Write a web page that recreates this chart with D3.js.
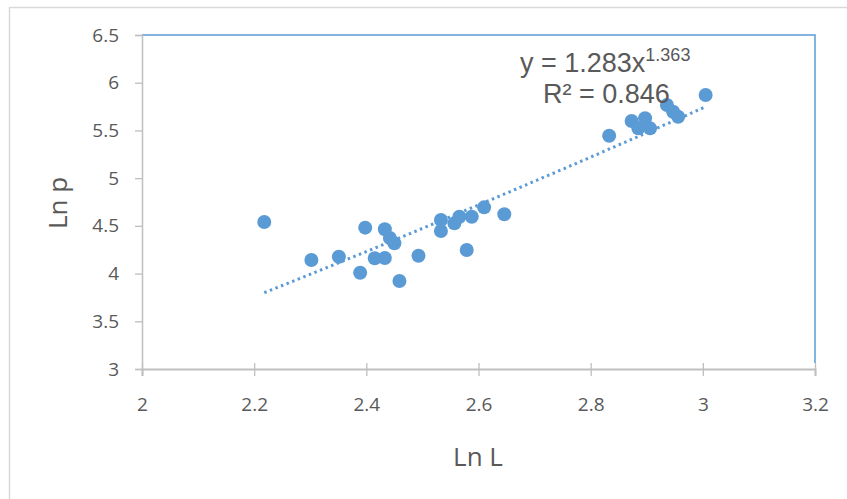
<!DOCTYPE html>
<html>
<head>
<meta charset="utf-8">
<script src="https://cdn.jsdelivr.net/npm/d3@7"></script>
<style>
  body { margin: 0; background: #fff; }
  svg { display: block; }
</style>
</head>
<body>
<div id="chart"></div>
<script>
(function () {
    "use strict";

    // data
    var lnL = [2.218, 2.302, 2.351, 2.398, 2.389, 2.415, 2.433, 2.433, 2.442, 2.450,
               2.459, 2.493, 2.533, 2.533, 2.557, 2.566, 2.588, 2.579, 2.610, 2.646,
               2.833, 2.873, 2.897, 2.885, 2.906, 2.936, 2.947, 2.956, 3.005];
    var lnP = [4.540, 4.142, 4.177, 4.481, 4.009, 4.161, 4.163, 4.464, 4.373, 4.317,
               3.922, 4.187, 4.561, 4.446, 4.527, 4.596, 4.596, 4.247, 4.694, 4.621,
               5.445, 5.599, 5.627, 5.522, 5.522, 5.766, 5.696, 5.644, 5.871];
    var xTicks = [2, 2.2, 2.4, 2.6, 2.8, 3, 3.2];
    var yTicks = [3, 3.5, 4, 4.5, 5, 5.5, 6, 6.5];
    // power trendline y = a * x^b
    var trendA = 1.283, trendB = 1.363;

    var W = 847, H = 499;
    var left = 142, right = 815, top = 35, bottom = 369;
    var blue = "#5b9bd5", grey = "#bfbfbf", textCol = "#595959";
    var font = "'Open Sans', 'Noto Sans', sans-serif";
    var eqFont = "'Liberation Sans', Arial, sans-serif";

    var svg = d3.select("#chart").append("svg")
        .attr("width", W)
        .attr("height", H);

    // outer chart border (clipped at right / bottom)
    svg.append("rect")
        .attr("x", 9.5).attr("y", 7.5)
        .attr("width", W + 20).attr("height", H + 20)
        .attr("fill", "none")
        .attr("stroke", "#d9d9d9")
        .attr("stroke-width", 1.5);

    var x = d3.scaleLinear().domain([2, 3.2]).range([left, right]);
    var y = d3.scaleLinear().domain([3, 6.5]).range([bottom, top]);

    // blue plot-area border on top and right
    svg.append("path")
        .attr("d", "M" + x(2) + "," + y(6.5) + "H" + x(3.2) + "V" + (y(3) - 6))
        .attr("fill", "none")
        .attr("stroke", blue)
        .attr("stroke-width", 1.5);

    // y axis
    var gy = svg.append("g")
        .attr("transform", "translate(" + left + ",0)")
        .call(d3.axisLeft(y).tickValues(yTicks).tickSize(7).tickPadding(16)
            .tickFormat(function (d) { return d; }));
    gy.select(".domain").attr("stroke", grey).attr("stroke-width", 1.5);
    gy.selectAll(".tick line").attr("stroke", grey).attr("stroke-width", 1.3);
    gy.selectAll(".tick text")
        .attr("fill", textCol)
        .attr("font-family", font)
        .attr("font-size", 19);

    // x axis
    var gx = svg.append("g")
        .attr("transform", "translate(0," + bottom + ")")
        .call(d3.axisBottom(x).tickValues(xTicks).tickSize(7).tickPadding(22)
            .tickFormat(function (d) { return d; }));
    gx.select(".domain").attr("stroke", grey).attr("stroke-width", 2);
    gx.selectAll(".tick line")
        .attr("y1", -6)
        .attr("stroke", grey).attr("stroke-width", 1.3);
    gx.selectAll(".tick text")
        .attr("fill", textCol)
        .attr("font-family", font)
        .attr("font-size", 19);

    // axis titles
    svg.append("text")
        .attr("transform", "translate(67,203) rotate(-90)")
        .style("text-anchor", "middle")
        .attr("fill", textCol)
        .style("font-family", font)
        .style("font-size", "26px")
        .text("Ln p");

    svg.append("text")
        .attr("x", 478).attr("y", 466)
        .style("text-anchor", "middle")
        .attr("fill", textCol)
        .style("font-family", font)
        .style("font-size", "26px")
        .text("Ln L");

    // points
    var pts = lnL.map(function (d, i) { return { x: d, y: lnP[i] }; });
    svg.selectAll("circle.pt")
        .data(pts)
        .enter()
        .append("circle")
        .attr("class", "pt")
        .attr("cx", function (d) { return x(d.x); })
        .attr("cy", function (d) { return y(d.y); })
        .attr("r", 7)
        .attr("fill", blue);

    // dotted power trendline over the data range
    var x0 = d3.min(lnL), x1 = d3.max(lnL);
    var trend = d3.range(0, 41).map(function (i) {
        var xv = x0 + (x1 - x0) * i / 40;
        return { x: xv, y: trendA * Math.pow(xv, trendB) };
    });
    var line = d3.line()
        .x(function (d) { return x(d.x); })
        .y(function (d) { return y(d.y); });
    svg.append("path")
        .attr("d", line(trend))
        .attr("fill", "none")
        .attr("stroke", blue)
        .attr("stroke-width", 3)
        .attr("stroke-dasharray", "2.5,3.5");

    // equation label
    var eq = svg.append("text")
        .attr("x", 520).attr("y", 72)
        .attr("fill", textCol)
        .style("font-family", eqFont)
        .style("font-size", "27px");
    eq.append("tspan").text("y = 1.283x");
    eq.append("tspan")
        .attr("dy", -11)
        .style("font-size", "18px")
        .text("1.363");

    svg.append("text")
        .attr("x", 543).attr("y", 103)
        .attr("fill", textCol)
        .style("font-family", eqFont)
        .style("font-size", "27px")
        .text("R² = 0.846");
})();
</script>
</body>
</html>
